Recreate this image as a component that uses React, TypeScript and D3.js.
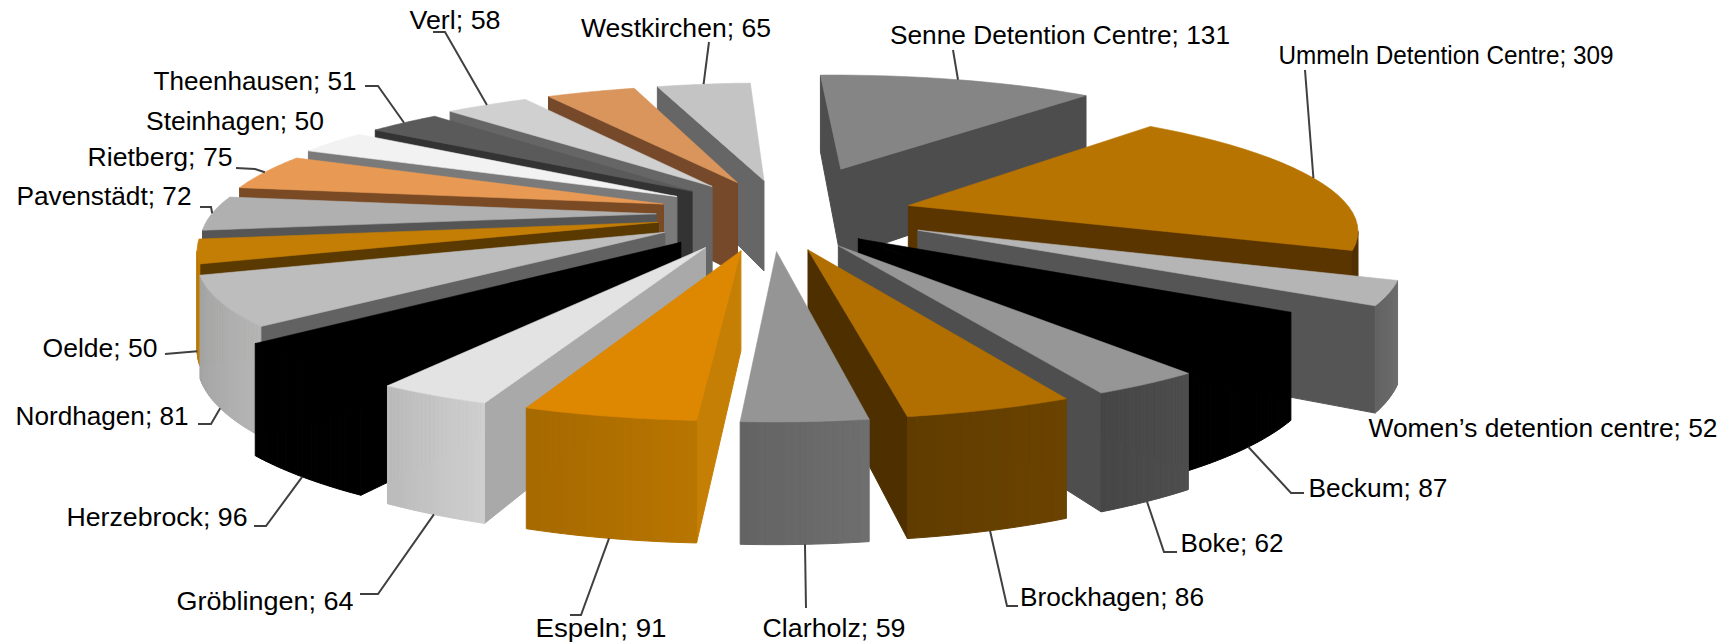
import React from "react";
import * as d3 from "d3";

// Slices, clockwise from the top. One slice has no label in the source chart.
const names = [
  "Senne Detention Centre", "Ummeln Detention Centre", "Women’s detention centre",
  "Beckum", "Boke", "Brockhagen", "Clarholz", "Espeln", "Gröblingen", "Herzebrock",
  "Nordhagen", "Oelde", "Pavenstädt", "Rietberg", "Steinhagen", "Theenhausen", "Verl",
  "", "Westkirchen",
];
const values = [131, 309, 52, 87, 62, 86, 59, 91, 64, 96, 81, 50, 72, 75, 50, 51, 58, 62, 65];

// per-slice placement: how far it is pulled out, sideways nudge, radius
const pulls = [0.315, 0.222, 0.222, 0.222, 0.222, 0.222, 0.222, 0.222, 0.222, 0.222, 0.222, 0.222, 0.222, 0.222, 0.222, 0.222, 0.222, 0.222, 0.222];
const nudges = [-0.01, -0.01, 0.015, -0.05, -0.035, -0.035, -0.03, -0.03, -0.035, -0.03, -0.01, 0, 0, 0, 0, 0, 0, 0, -0.005];
const radii = [0.775, 0.75, 0.778, 0.74, 0.778, 0.778, 0.778, 0.778, 0.778, 0.778, 0.75, 0.75, 0.75, 0.755, 0.765, 0.765, 0.778, 0.778, 0.778];

const topColors = [
  "#858585", "#b87400", "#b5b5b5", "#000000", "#969696", "#b06f00", "#959595", "#de8700", "#e3e3e3", "#000000",
  "#bdbdbd", "#c47e05", "#b0b0b0", "#e89a55", "#f2f2f2", "#5a5a5a", "#d0d0d0", "#d9955b", "#c4c4c4",
];
const sideColors = [
  "#4d4d4d", "#5a3500", "#555555", "#000000", "#4e4e4e", "#4d2f00", "#6e6e6e", "#c57f05", "#a9a9a9", "#000000",
  "#626262", "#5a3a00", "#555555", "#7a4a24", "#7a7a7a", "#333333", "#666666", "#75492a", "#666666",
];
const rimColors = [
  "#4d4d4d", "#5a3500", "#6e6e6e", "#000000", "#4e4e4e", "#6b4300", "#6e6e6e", "#b87500", "#cfcfcf", "#000000",
  "#b5b5b5", "#c47e05", "#aaaaaa", "#e89a55", "#cccccc", "#444444", "#aaaaaa", "#b87a45", "#999999",
];

// label centre and width, then the leader's way from the slice to the label
const labelCentres: [number, number][] = [
  [1060, 35], [1446, 55], [1543, 428], [1378, 488], [1232, 543], [1112, 597], [834, 628], [601, 628], [265, 601], [157, 517],
  [102, 416], [100, 348], [104, 196], [160, 157], [235, 121], [255, 81], [455, 20], [0, 0], [676, 28],
];
const labelWidths = [340, 335, 349, 139, 103, 184, 143, 131, 177, 181, 173, 115, 175, 145, 178, 203, 91, 0, 190];
const leaderBends: [number, number][][] = [
  [[953, 50]], [[1305, 70]], [], [[1291, 493], [1304, 493]], [[1164, 552], [1177, 552]], [[1007, 606], [1018, 606]], [[806, 608]],
  [[581, 615], [570, 615]], [[378, 594], [360, 594]], [[266, 526], [254, 526]],
  [[211, 424], [198, 424]], [[165, 354]], [[211, 207], [200, 207]], [[255, 169], [236, 168]], [], [[378, 86], [365, 86]],
  [[445, 32], [433, 32]], [], [[709, 42]],
];

const WIDTH = 1721;
const HEIGHT = 642;
const cx = 788;
const cy = 214;
const radiusX = 593;
const radiusY = 161;
const depth = 95;
const lens = 0.226;
const arcSteps = 24;

// the source's 3D view squeezes the front-left of the pie and widens the back
const viewAngle = d3
  .scaleLinear()
  .domain([12.1, 41.6, 111, 122.7, 142.3, 156.2, 175.6, 188.9, 209.4, 223.8, 245.4, 263.6, 372.1])
  .range([-2, 41, 111, 121.5, 142.8, 154, 170.8, 183.3, 200.5, 212, 229, 251.5, 357.4]);

type Pt = [number, number];

// pie plane position (unit circle) and drop below the top face -> screen
function project(px: number, py: number, drop = 0): Pt {
  const p = 1 / (1 - lens * py);
  return [cx + radiusX * px * p, cy + radiusY * py * p + drop * p];
}

const polygon = d3.line<Pt>().curve(d3.curveLinearClosed);
const leader = d3.line<Pt>();

function facesViewer(pts: Pt[]) {
  return d3.polygonArea(pts) > 0;
}

const deg = Math.PI / 180;
const arcs = d3
  .pie<number>()
  .sort(null)
  .startAngle(12.1 * deg)
  .endAngle(372.1 * deg)(values);

const slices = arcs.map((a) => {
  const i = a.index;
  const view = (rad: number) => viewAngle(rad / deg) * deg;
  const mid = view((a.startAngle + a.endAngle) / 2);
  const toPlane = (angle: number, r: number): [number, number] => [
    pulls[i] * Math.sin(mid) + nudges[i] + r * Math.sin(angle),
    -pulls[i] * Math.cos(mid) - r * Math.cos(angle),
  ];
  const angle = d3.scaleLinear().domain([0, arcSteps]).range([a.startAngle, a.endAngle]);
  const rim = d3.range(arcSteps + 1).map((s) => toPlane(view(angle(s)), radii[i]));
  const apex = toPlane(0, 0);
  const walls: { pts: Pt[]; fill: string }[] = [];

  const wall = (u: [number, number], v: [number, number], fill: string) => {
    const pts = [project(u[0], u[1]), project(v[0], v[1]), project(v[0], v[1], depth), project(u[0], u[1], depth)];
    if (facesViewer(pts)) walls.push({ pts, fill });
  };
  wall(apex, rim[0], sideColors[i]);
  wall(rim[arcSteps], apex, sideColors[i]);
  const shade = d3.scaleLinear().domain([0, arcSteps]).range([0, 0.3]);
  d3.range(arcSteps).forEach((s) => {
    const c = d3.color(rimColors[i])!.darker(shade(s)).formatHex();
    wall(rim[s], rim[s + 1], c);
  });

  const top = [apex, ...rim].map((q) => project(q[0], q[1]));
  const anchor = toPlane(mid, radii[i]);
  const centroidY = toPlane(mid, radii[i] * 0.6)[1];
  const start = project(anchor[0], anchor[1], anchor[1] > 0.1 ? depth : 0);
  return { i, walls, top, centroidY, start };
});

const backToFront = [...slices].sort((a, b) => a.centroidY - b.centroidY);

export default function App() {
  return (
    <svg
      width={WIDTH}
      height={HEIGHT}
      style={{ position: "absolute", left: 0, top: 0, display: "block", background: "#fff" }}
    >
      {backToFront.map((s) => (
        <g key={s.i}>
          {s.walls.map((w, k) => (
            <path key={k} d={polygon(w.pts)!} fill={w.fill} stroke={w.fill} strokeWidth={1} />
          ))}
          <path d={polygon(s.top)!} fill={topColors[s.i]} stroke={topColors[s.i]} strokeWidth={0.6} />
        </g>
      ))}
      {slices.map((s) =>
        leaderBends[s.i].length ? (
          <path
            key={s.i}
            d={leader([s.start, ...leaderBends[s.i]])!}
            fill="none"
            stroke="#404040"
            strokeWidth={2}
          />
        ) : null
      )}
      {names.map((name, i) =>
        name ? (
          <text
            key={name}
            x={labelCentres[i][0]}
            y={labelCentres[i][1]}
            textAnchor="middle"
            dominantBaseline="central"
            fontFamily="Liberation Sans, Arial, sans-serif"
            fontSize={26}
            textLength={labelWidths[i]}
            lengthAdjust="spacingAndGlyphs"
            fill="#000"
          >
            {`${name}; ${values[i]}`}
          </text>
        ) : null
      )}
    </svg>
  );
}
